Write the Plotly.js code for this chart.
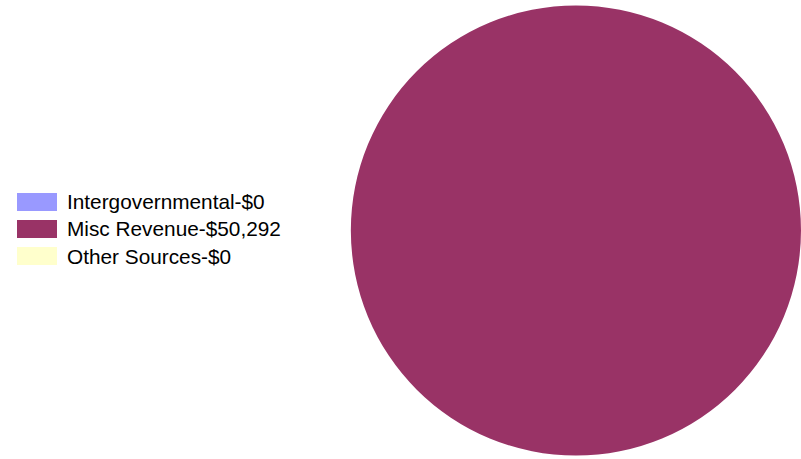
<!DOCTYPE html>
<html>
<head>
<meta charset="utf-8">
<script src="https://cdn.plot.ly/plotly-3.0.1.min.js"></script>
<style>html,body{margin:0;padding:0;background:#fff;}#chart{width:801px;height:459px;}</style>
</head>
<body>
<div id="chart"></div>
<script>
var categories = ["Intergovernmental", "Misc Revenue", "Other Sources"];
var values = [0, 50292, 0];
var colors = ["#9999FF", "#993366", "#FFFFCC"];

var W = 801, H = 459;
function fmt(v){ return "$" + v.toLocaleString("en-US"); }

var shapes = [], annotations = [];
var rowTop = 193, rowGap = 27, swH = 18;
for (var i = 0; i < categories.length; i++) {
  var yTop = rowTop + i * rowGap;
  shapes.push({type:"rect", xref:"paper", yref:"paper",
    x0:17/W, x1:57/W, y0:1-(yTop+swH)/H, y1:1-yTop/H,
    fillcolor:colors[i], line:{width:0}});
  annotations.push({xref:"paper", yref:"paper", x:65/W, y:1-(yTop+swH/2)/H,
    xanchor:"left", yanchor:"middle", showarrow:false,
    text: categories[i] + "-" + fmt(values[i]),
    font:{family:"Liberation Sans, Arial, sans-serif", size:20.8, color:"#000"}});
}

var trace = {
  type:"pie", labels:categories, values:values,
  marker:{colors:colors, line:{width:0}},
  sort:false, direction:"clockwise", textinfo:"none", hoverinfo:"label+value",
  showlegend:false,
  domain:{x:[0.438,1.0], y:[1/H, 1-3/H]}
};

Plotly.newPlot("chart", [trace], {
  width:W, height:H, margin:{l:0,r:0,t:0,b:0},
  paper_bgcolor:"#fff", plot_bgcolor:"#fff",
  showlegend:false, shapes:shapes, annotations:annotations
}, {displayModeBar:false, staticPlot:true});
</script>
</body>
</html>
